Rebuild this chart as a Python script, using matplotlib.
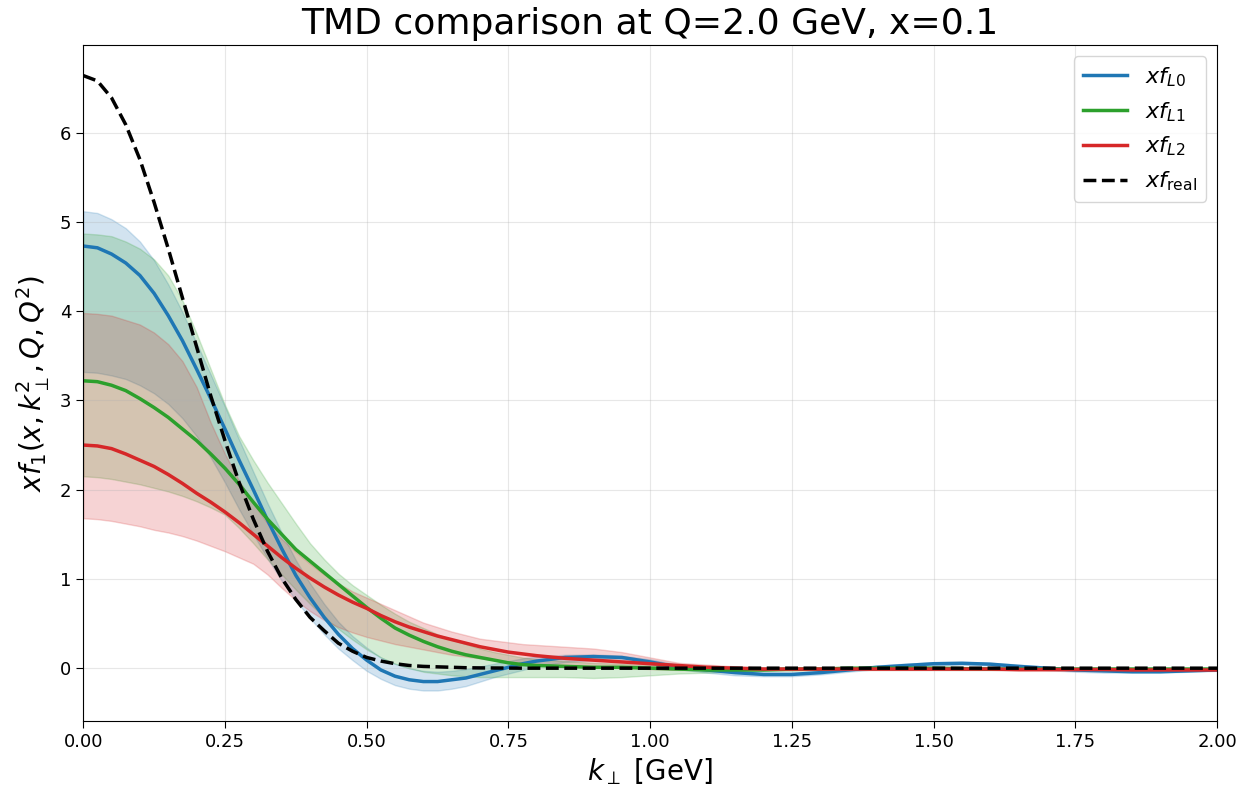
import matplotlib
matplotlib.use("Agg")
import matplotlib.pyplot as plt

# transverse momentum grid [GeV]
k_perp = [0.000, 0.025, 0.050, 0.075, 0.100, 0.125, 0.150, 0.175, 0.200, 0.225,
          0.250, 0.275, 0.300, 0.325, 0.350, 0.375, 0.400, 0.425, 0.450, 0.475,
          0.500, 0.525, 0.550, 0.575, 0.600, 0.625, 0.650, 0.675, 0.700, 0.725,
          0.750, 0.775, 0.800,
          0.85, 0.90, 0.95, 1.00, 1.05, 1.10, 1.15, 1.20, 1.25, 1.30, 1.35, 1.40,
          1.45, 1.50, 1.55, 1.60, 1.65, 1.70, 1.75, 1.80, 1.85, 1.90, 1.95, 2.00]

# reference TMD
xf_real = [6.64, 6.58, 6.39, 6.09, 5.70, 5.22, 4.70, 4.15, 3.60, 3.05,
           2.55, 2.08, 1.67, 1.31, 1.01, 0.77, 0.57, 0.42, 0.28, 0.19,
           0.12, 0.08, 0.05, 0.03, 0.02, 0.015, 0.01, 0.005, 0.003, 0.002,
           0.001, 0.0, 0.0,
           0.0, 0.0, 0.0, 0.0, 0.0, 0.0, 0.0, 0.0, 0.0, 0.0, 0.0, 0.0,
           0.0, 0.0, 0.0, 0.0, 0.0, 0.0, 0.0, 0.0, 0.0, 0.0, 0.0, 0.0]

# L0 reconstruction: central value and band
xf_L0 = [4.73, 4.71, 4.64, 4.54, 4.40, 4.20, 3.95, 3.67, 3.35, 3.02,
         2.68, 2.33, 2.00, 1.66, 1.34, 1.04, 0.79, 0.57, 0.38, 0.22,
         0.09, -0.02, -0.09, -0.13, -0.15, -0.15, -0.13, -0.11, -0.07, -0.03,
         0.01, 0.05, 0.08,
         0.12, 0.13, 0.12, 0.07, 0.01, -0.02, -0.05, -0.07, -0.07, -0.05, -0.02, 0.01,
         0.03, 0.05, 0.055, 0.045, 0.02, 0.0, -0.02, -0.03, -0.04, -0.04, -0.03, -0.02]
xf_L0_lo = [3.32, 3.31, 3.28, 3.24, 3.17, 3.08, 2.96, 2.80, 2.60, 2.36,
            2.08, 1.78, 1.50, 1.23, 0.98, 0.76, 0.56, 0.38, 0.22, 0.09,
            -0.03, -0.12, -0.19, -0.23, -0.25, -0.25, -0.23, -0.20, -0.15, -0.10,
            -0.06, -0.02, 0.02,
            0.07, 0.09, 0.08, 0.04, -0.01, -0.05, -0.08, -0.09, -0.09, -0.07, -0.04, -0.01,
            0.01, 0.03, 0.04, 0.03, 0.0, -0.02, -0.04, -0.05, -0.05, -0.05, -0.04, -0.03]
xf_L0_hi = [5.12, 5.10, 5.03, 4.93, 4.78, 4.57, 4.30, 3.99, 3.64, 3.29,
            2.93, 2.56, 2.20, 1.85, 1.52, 1.21, 0.95, 0.72, 0.52, 0.36,
            0.23, 0.12, 0.05, 0.0, -0.03, -0.04, -0.03, -0.01, 0.02, 0.05,
            0.08, 0.11, 0.13,
            0.15, 0.155, 0.14, 0.10, 0.04, 0.0, -0.03, -0.05, -0.05, -0.03, 0.0, 0.03,
            0.05, 0.065, 0.07, 0.06, 0.04, 0.015, -0.01, -0.02, -0.03, -0.03, -0.02, -0.01]

# L1 reconstruction
xf_L1 = [3.22, 3.21, 3.17, 3.11, 3.02, 2.92, 2.81, 2.68, 2.55, 2.40,
         2.24, 2.06, 1.86, 1.67, 1.50, 1.33, 1.20, 1.07, 0.94, 0.81,
         0.68, 0.56, 0.45, 0.37, 0.30, 0.24, 0.19, 0.15, 0.12, 0.09,
         0.06, 0.04, 0.03,
         0.02, 0.01, 0.01, 0.0, -0.01, -0.02, -0.02, -0.02, -0.01, -0.01, 0.0, 0.0,
         0.0, 0.0, -0.005, -0.01, -0.01, -0.01, -0.01, -0.01, -0.01, -0.01, -0.01, -0.01]
xf_L1_lo = [2.15, 2.14, 2.12, 2.09, 2.06, 2.02, 1.98, 1.93, 1.87, 1.80,
            1.72, 1.57, 1.40, 1.22, 1.05, 0.88, 0.72, 0.57, 0.44, 0.32,
            0.21, 0.12, 0.05, 0.0, -0.04, -0.06, -0.08, -0.09, -0.10, -0.10,
            -0.10, -0.10, -0.10,
            -0.10, -0.11, -0.10, -0.08, -0.06, -0.05, -0.04, -0.03, -0.03, -0.02, -0.02, -0.02,
            -0.02, -0.02, -0.02, -0.02, -0.02, -0.02, -0.02, -0.02, -0.02, -0.02, -0.02, -0.02]
xf_L1_hi = [4.87, 4.86, 4.84, 4.78, 4.70, 4.58, 4.40, 4.12, 3.75, 3.35,
            2.95, 2.60, 2.33, 2.08, 1.85, 1.62, 1.40, 1.22, 1.06, 0.93,
            0.82, 0.71, 0.61, 0.52, 0.45, 0.38, 0.32, 0.27, 0.22, 0.18,
            0.15, 0.12, 0.10,
            0.08, 0.06, 0.05, 0.03, 0.02, 0.01, 0.01, 0.01, 0.01, 0.01, 0.01, 0.01,
            0.01, 0.01, 0.01, 0.01, 0.01, 0.01, 0.005, 0.005, 0.005, 0.005, 0.005, 0.005]

# L2 reconstruction
xf_L2 = [2.50, 2.49, 2.46, 2.40, 2.33, 2.26, 2.17, 2.07, 1.96, 1.86,
         1.75, 1.63, 1.50, 1.37, 1.24, 1.12, 1.01, 0.91, 0.82, 0.74,
         0.67, 0.59, 0.52, 0.46, 0.41, 0.36, 0.32, 0.28, 0.24, 0.21,
         0.18, 0.16, 0.14,
         0.11, 0.09, 0.07, 0.05, 0.03, 0.01, 0.0, -0.01, -0.01, -0.01, -0.01, -0.01,
         -0.01, -0.01, -0.01, -0.01, -0.015, -0.015, -0.015, -0.015, -0.02, -0.02, -0.02, -0.02]
xf_L2_lo = [1.68, 1.67, 1.65, 1.62, 1.59, 1.55, 1.52, 1.48, 1.43, 1.37,
            1.31, 1.24, 1.17, 1.05, 0.90, 0.76, 0.64, 0.54, 0.46, 0.40,
            0.35, 0.31, 0.27, 0.24, 0.21, 0.18, 0.15, 0.13, 0.11, 0.09,
            0.07, 0.05, 0.04,
            0.02, 0.01, 0.0, -0.01, -0.02, -0.02, -0.02, -0.02, -0.02, -0.02, -0.02, -0.02,
            -0.02, -0.02, -0.02, -0.02, -0.03, -0.03, -0.03, -0.03, -0.03, -0.03, -0.03, -0.03]
xf_L2_hi = [3.98, 3.97, 3.95, 3.90, 3.85, 3.76, 3.63, 3.44, 3.15, 2.75,
            2.40, 2.10, 1.85, 1.62, 1.45, 1.30, 1.17, 1.05, 0.95, 0.86,
            0.79, 0.72, 0.65, 0.58, 0.51, 0.46, 0.41, 0.37, 0.33, 0.31,
            0.29, 0.27, 0.26,
            0.24, 0.22, 0.18, 0.12, 0.06, 0.04, 0.02, 0.01, 0.005, 0.005, 0.005, 0.005,
            0.005, 0.005, 0.005, 0.005, 0.005, 0.005, 0.005, 0.005, 0.005, 0.005, 0.005, 0.005]

series = [
    (xf_L0, xf_L0_lo, xf_L0_hi, "tab:blue", r"$xf_{L0}$"),
    (xf_L1, xf_L1_lo, xf_L1_hi, "tab:green", r"$xf_{L1}$"),
    (xf_L2, xf_L2_lo, xf_L2_hi, "tab:red", r"$xf_{L2}$"),
]

fig = plt.figure(figsize=(12.42, 7.93), dpi=100)
ax = fig.add_axes([0.067, 0.091, 0.913, 0.852])

for mean, lo, hi, color, label in series:
    ax.fill_between(k_perp, lo, hi, color=color, alpha=0.2)
for mean, lo, hi, color, label in series:
    ax.plot(k_perp, mean, color=color, lw=2.5, label=label)
ax.plot(k_perp, xf_real, color="black", ls="--", lw=2.5, label=r"$xf_{\mathrm{real}}$")

ax.set_xlim(0, 2.0)
ax.set_ylim(-0.59, 6.98)
ax.set_xticks([0.0, 0.25, 0.5, 0.75, 1.0, 1.25, 1.5, 1.75, 2.0])
ax.set_xticklabels(["0.00", "0.25", "0.50", "0.75", "1.00", "1.25", "1.50", "1.75", "2.00"])
ax.set_yticks([0, 1, 2, 3, 4, 5, 6])
ax.tick_params(labelsize=13, length=5)
ax.grid(True, alpha=0.3)

ax.set_xlabel(r"$k_\perp$ [GeV]", fontsize=20, labelpad=4)
ax.set_ylabel(r"$xf_1(x, k_\perp^2, Q, Q^2)$", fontsize=20, labelpad=6)
ax.set_title("TMD comparison at Q=2.0 GeV, x=0.1", fontsize=26, pad=8)
ax.legend(loc="upper right", fontsize=16)

fig.savefig("out.png", dpi=100)
